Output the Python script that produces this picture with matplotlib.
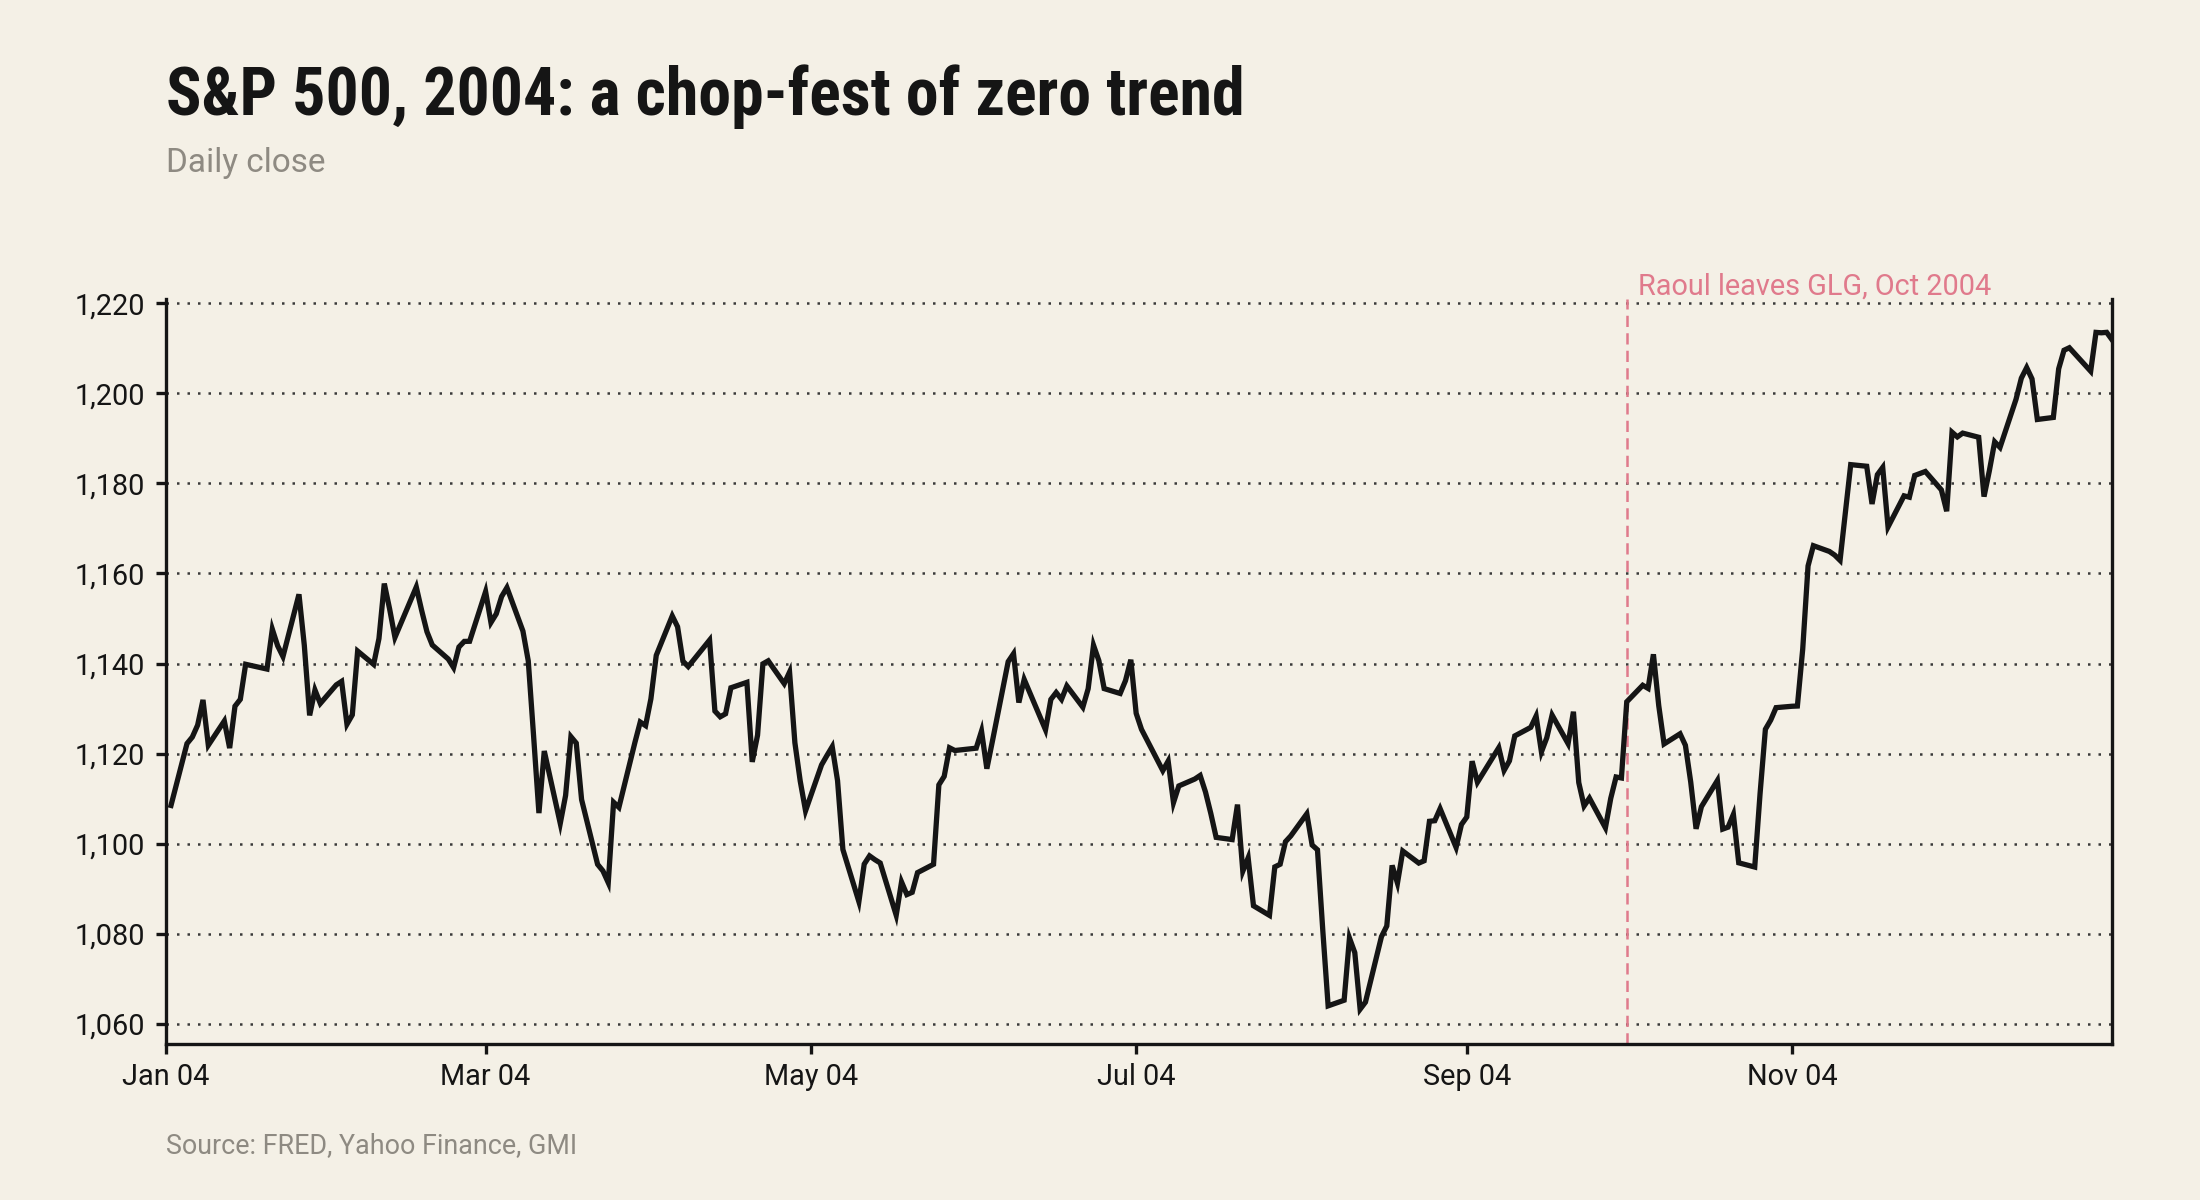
import matplotlib
matplotlib.use("Agg")
import matplotlib.pyplot as plt
import matplotlib.dates as mdates
import matplotlib.ticker as mticker
import matplotlib.transforms as mtransforms
import pandas as pd

BG = "#f4f0e6"
INK = "#151515"
MUTED = "#8e8a82"
PINK = "#e07a8c"

# S&P 500 daily closes, 2004, month by month
jan = [1108.48, 1122.22, 1123.67, 1126.33, 1131.92, 1121.86, 1127.23, 1121.22, 1130.52, 1132.05,
       1139.83, 1138.77, 1147.62, 1143.94, 1141.55, 1155.37, 1144.05, 1128.48, 1134.11, 1131.13]
feb = [1135.26, 1136.03, 1126.52, 1128.59, 1142.76, 1139.81, 1145.54, 1157.76, 1152.11, 1145.81,
       1156.99, 1151.82, 1147.06, 1144.11, 1140.99, 1139.09, 1143.67, 1144.91, 1144.94]
mar = [1155.97, 1149.10, 1151.03, 1154.87, 1156.86, 1147.20, 1140.58, 1123.89, 1106.78, 1120.57,
       1104.49, 1110.70, 1123.75, 1122.32, 1109.78, 1095.40, 1093.95, 1091.33, 1109.19, 1108.06,
       1122.47, 1127.00, 1126.21]
apr = [1132.17, 1141.81, 1150.57, 1148.16, 1140.53, 1139.32, 1145.20, 1129.44, 1128.17, 1128.84,
       1134.61, 1135.82, 1118.15, 1124.09, 1139.93, 1140.60, 1135.53, 1138.11, 1122.41, 1113.89,
       1107.30]
may = [1117.49, 1119.55, 1121.53, 1113.99, 1098.70, 1087.12, 1095.45, 1097.28, 1096.44, 1095.70,
       1084.10, 1091.49, 1088.68, 1089.19, 1093.56, 1095.41, 1113.05, 1114.94, 1121.28, 1120.68]
jun = [1121.20, 1124.99, 1116.64, 1122.50, 1140.42, 1142.18, 1131.33, 1136.47, 1125.29, 1132.01,
       1133.56, 1132.05, 1135.02, 1130.30, 1134.41, 1144.06, 1140.65, 1134.43, 1133.35, 1136.20,
       1140.84]
jul = [1128.94, 1125.38, 1116.21, 1118.33, 1109.11, 1112.81, 1114.35, 1115.14, 1111.47, 1106.69,
       1101.39, 1100.90, 1108.67, 1093.88, 1096.84, 1086.20, 1084.07, 1094.83, 1095.42, 1100.43,
       1101.72]
aug = [1106.62, 1099.69, 1098.63, 1080.70, 1063.97, 1065.22, 1079.04, 1075.79, 1063.23, 1064.80,
       1079.34, 1081.71, 1095.17, 1091.23, 1098.35, 1095.68, 1096.19, 1104.96, 1105.09, 1107.77,
       1099.15, 1104.24]
sep = [1105.91, 1118.31, 1113.63, 1121.30, 1116.27, 1118.38, 1123.92, 1125.82, 1128.33, 1120.37,
       1123.50, 1128.55, 1122.20, 1129.30, 1113.56, 1108.36, 1110.11, 1103.52, 1110.06, 1114.80,
       1114.58]
oct_ = [1131.50, 1135.17, 1134.48, 1142.05, 1130.65, 1122.14, 1124.39, 1121.84, 1113.65, 1103.29,
        1108.20, 1114.02, 1103.23, 1103.66, 1106.49, 1095.74, 1094.80, 1111.09, 1125.40, 1127.44,
        1130.20]
nov = [1130.51, 1130.56, 1143.20, 1161.67, 1166.17, 1164.89, 1164.08, 1162.91, 1173.48, 1184.17,
       1183.81, 1175.43, 1181.94, 1183.55, 1170.34, 1177.24, 1176.94, 1181.76, 1182.65, 1178.57,
       1173.82]
dec = [1191.37, 1190.33, 1191.17, 1190.25, 1177.07, 1182.81, 1189.24, 1188.00, 1198.68, 1203.38,
       1205.72, 1203.21, 1194.20, 1194.65, 1205.45, 1209.57, 1210.13, 1204.92, 1213.54, 1213.45,
       1213.55, 1211.92]

holidays = ["2004-01-01", "2004-01-19", "2004-02-16", "2004-04-09", "2004-05-31",
            "2004-06-11", "2004-07-05", "2004-09-06", "2004-11-25", "2004-12-24"]

event_date = "2004-10-01"
event_label = "Raoul leaves GLG, Oct 2004"

closes = jan + feb + mar + apr + may + jun + jul + aug + sep + oct_ + nov + dec
days = pd.bdate_range("2004-01-01", "2004-12-31")
days = days[~days.isin(pd.to_datetime(holidays))]
assert len(days) == len(closes), (len(days), len(closes))

body_font = ["Roboto", "DejaVu Sans"]
title_font = ["Roboto Condensed", "Liberation Sans Narrow", "DejaVu Sans"]
plt.rcParams["font.family"] = body_font

fig = plt.figure(figsize=(11, 6), dpi=200, facecolor=BG)
ax = fig.add_axes([0.0753, 0.13, 0.8847, 0.621])
ax.set_facecolor(BG)

ax.plot(days, closes, color=INK, lw=1.9, solid_joinstyle="miter", zorder=3)

ax.set_xlim(pd.Timestamp("2004-01-01"), pd.Timestamp("2004-12-31"))
ax.set_ylim(1055.5, 1221)
ax.yaxis.set_major_locator(mticker.MultipleLocator(20))
ax.yaxis.set_major_formatter(mticker.FuncFormatter(lambda v, p: f"{v:,.0f}"))
ax.xaxis.set_major_locator(mdates.MonthLocator(bymonth=[1, 3, 5, 7, 9, 11]))
ax.xaxis.set_major_formatter(mdates.DateFormatter("%b %y"))

ax.grid(axis="y", color="#3a3a3a", lw=0.9, linestyle=(0, (1, 3.2)))
ax.set_axisbelow(True)

for side in ["left", "bottom", "right"]:
    ax.spines[side].set_color(INK)
    ax.spines[side].set_linewidth(1.2)
ax.spines["top"].set_visible(False)
ax.tick_params(axis="both", colors=INK, labelsize=10.4, width=1.2, length=3.5, pad=4)
ax.tick_params(axis="x", pad=3.5)

ev = mdates.date2num(pd.Timestamp(event_date))
ax.axvline(ev, color=PINK, lw=0.9, linestyle=(0, (4.5, 2.5)), zorder=2)
trans = mtransforms.blended_transform_factory(ax.transData, ax.transAxes)
ax.annotate(event_label, xy=(ev, 1.0), xycoords=trans, xytext=(4, -0.8),
            textcoords="offset points", ha="left", va="bottom", color=PINK, fontsize=10.4)

fig.text(0.0753, 0.904, "S&P 500, 2004: a chop-fest of zero trend", family=title_font,
         fontweight="bold", fontsize=23.7, color=INK, ha="left", va="baseline")
fig.text(0.0753, 0.857, "Daily close", fontsize=12, color=MUTED, ha="left", va="baseline")
fig.text(0.0753, 0.039, "Source: FRED, Yahoo Finance, GMI", fontsize=9.7, color=MUTED,
         ha="left", va="baseline")

fig.savefig("out.png", dpi=200, facecolor=BG)
